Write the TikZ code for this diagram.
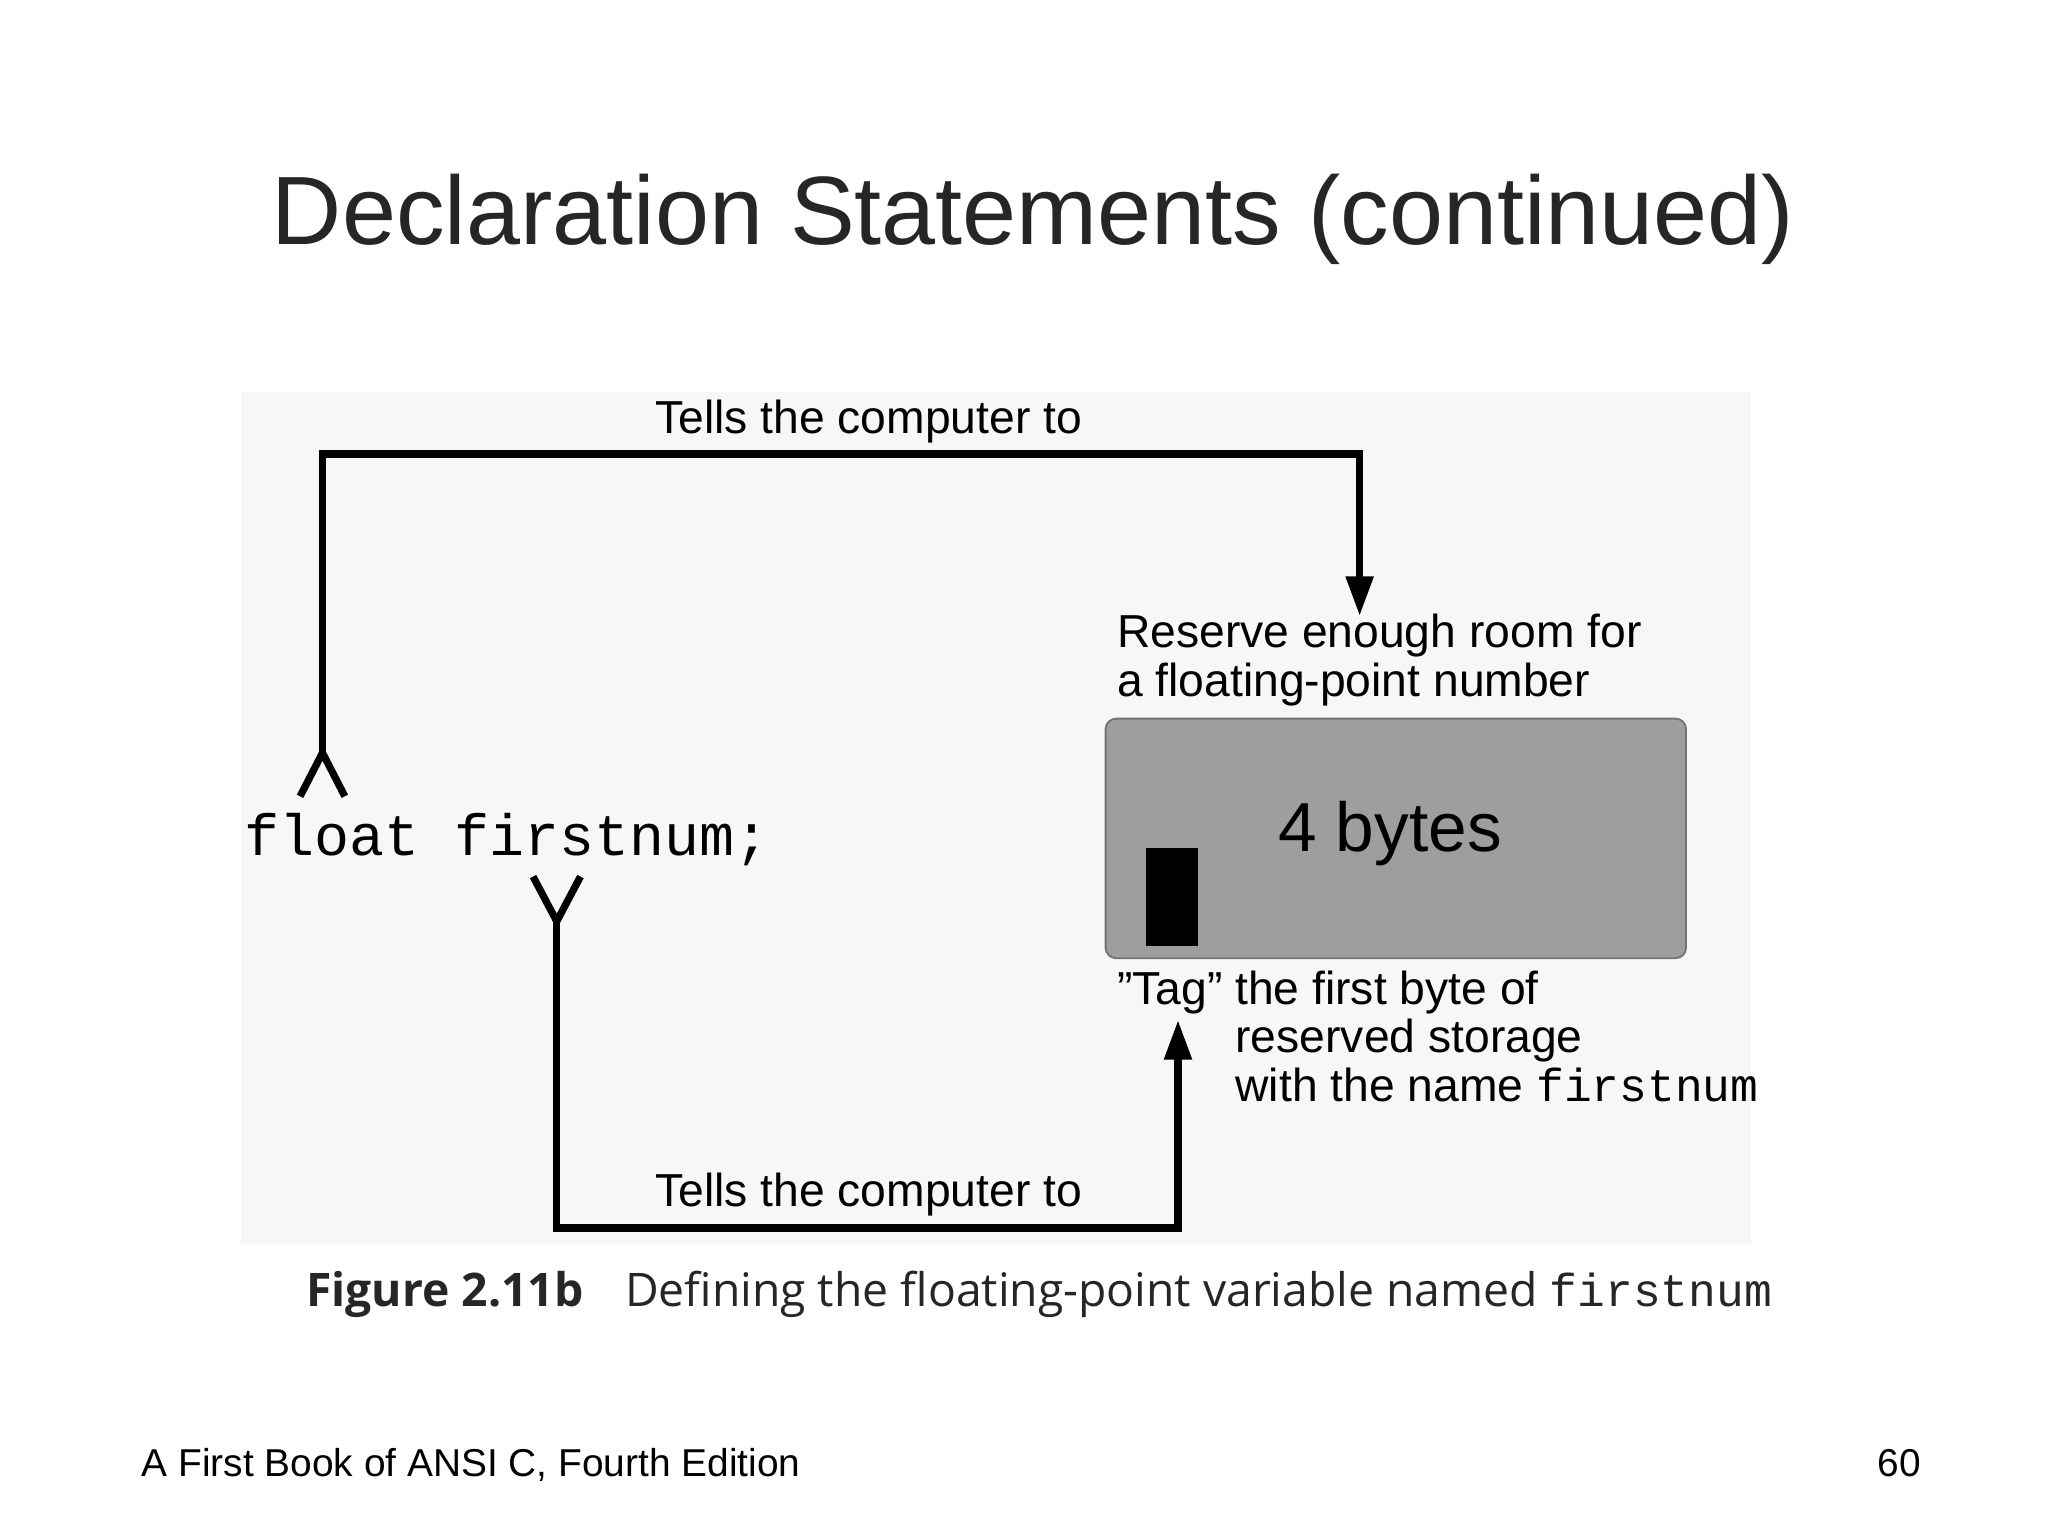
\documentclass[tikz,border=0pt]{standalone}
\usepackage{fontspec}
\setmainfont{Liberation Sans}
\setmonofont{Liberation Mono}
\newfontfamily\capfont{Open Sans}
\usetikzlibrary{arrows.meta}
\begin{document}
\begin{tikzpicture}[yscale=-1,
  wire/.style={line width=0.055cm, line join=miter},
  arr/.style={wire,-{Triangle[length=0.3cm,width=0.2cm]}},
  lab/.style={inner sep=0pt, font=\fontsize{10}{12}\selectfont}]
\useasboundingbox (0,0) rectangle (15.56,11.67);
\fill[white] (0,0) rectangle (15.56,11.67);
\fill[black!3] (1.83,2.98) rectangle (13.3,9.45);
\node[inner sep=0pt, font=\fontsize{21}{24}\selectfont, text=black!85] (title) at (7.85,1.67) {Declaration Statements (continued)};
% top path
\coordinate (f1) at (2.45,5.72);
\coordinate (c1) at (2.45,3.45);
\coordinate (c2) at (10.33,3.45);
\coordinate (t1) at (10.33,4.68);
\draw[arr] (f1) -- (c1) -- (c2) -- (t1);
\draw[wire] (2.28,6.05) -- (f1) -- (2.62,6.05);
\node[lab, anchor=base] (tc1) at (6.6,3.29) {Tells the computer to};
\node[inner sep=0pt, anchor=base west, font=\ttfamily\fontsize{12.6}{14}\selectfont] (code) at (1.85,6.50) {float firstnum;};
% bottom path
\coordinate (f2) at (4.23,7.0);
\coordinate (c3) at (4.23,9.33);
\coordinate (c4) at (8.95,9.33);
\coordinate (t2) at (8.95,7.75);
\draw[wire] (4.05,6.66) -- (f2) -- (4.41,6.66);
\draw[arr] (f2) -- (c3) -- (c4) -- (t2);
\node[lab, anchor=base] (tc2) at (6.6,9.17) {Tells the computer to};
% box
\draw[rounded corners=0.08cm, fill=black!38, draw=black!55] (8.4,5.46) rectangle (12.81,7.28);
\node[inner sep=0pt, font=\fontsize{15}{18}\selectfont] (bytes) at (10.56,6.33) {4 bytes};
\fill[black] (8.71,6.44) rectangle (9.10,7.19);
\node[lab, anchor=base west, align=left] (res) at (8.48,4.92) {Reserve enough room for};
\node[lab, anchor=base west] (res2) at (8.48,5.29) {a floating-point number};
\node[lab, anchor=base west] (tag1) at (8.48,7.63) {"Tag" the first byte of};
\node[lab, anchor=base west] (tag2) at (9.38,8.0) {reserved storage};
\node[lab, anchor=base west] (tag3) at (9.38,8.37) {with the name {\ttfamily firstnum}};
% caption
\node[inner sep=0pt, anchor=base west, font=\capfont\fontsize{10}{12}\selectfont, text=black!85] (cap) at (2.32,9.93) {\textbf{Figure 2.11b}\hspace{0.9em}Defining the floating-point variable named {\ttfamily firstnum}};
% footer
\node[inner sep=0pt, anchor=base west, font=\fontsize{8.4}{10}\selectfont] (foot) at (1.07,11.22) {A First Book of ANSI C, Fourth Edition};
\node[inner sep=0pt, anchor=base east, font=\fontsize{8.4}{10}\selectfont] (pg) at (14.6,11.22) {60};
\end{tikzpicture}
\end{document}
